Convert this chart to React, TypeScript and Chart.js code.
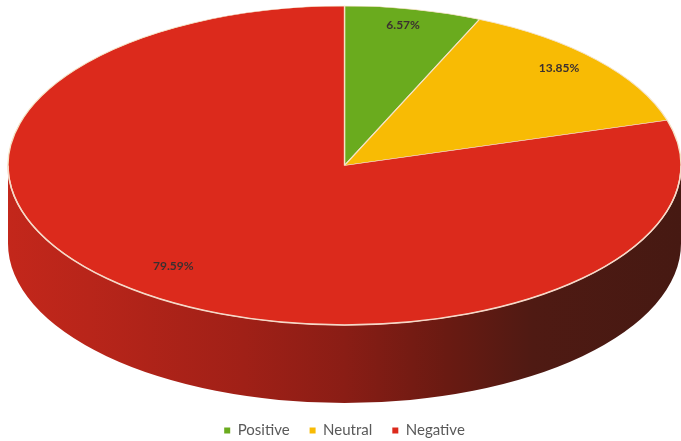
import React, { useEffect, useRef } from "react";
import { Chart, registerables } from "chart.js";

Chart.register(...registerables);

// ---- data ----
const categories = ["Positive", "Neutral", "Negative"];
const shares = [6.57, 13.85, 79.59];
const valueLabels = ["6.57%", "13.85%", "79.59%"];
const sliceColors = ["#6aab1e", "#f8bb04", "#dc2a1c"];

// ---- 3D look (style) ----
const TILT = 0.474; // vertical / horizontal radius of the top face
const DEPTH = 78; // thickness of the cylinder side, px
const LABEL_R = 0.85; // label distance, fraction of radius
const LABEL_LIFT = 8; // perspective-like upward shift of labels, px
const sideStops: [number, string][] = [
  [0, "#c3271b"],
  [0.12, "#b8251a"],
  [0.35, "#a02017"],
  [0.5, "#8a1d15"],
  [0.65, "#6a1a12"],
  [0.78, "#4f1a13"],
  [1, "#461912"],
];

function geometry(chart: any) {
  const a = chart.chartArea;
  const rx = (a.right - a.left) / 2;
  const ry = rx * TILT;
  return { cx: a.left + rx, cy: a.top + ry, rx, ry };
}

const pie3d = {
  id: "pie3d",
  beforeDatasetsDraw(chart: any) {
    const ctx = chart.ctx as CanvasRenderingContext2D;
    const { cx, cy, rx, ry } = geometry(chart);
    const meta = chart.getDatasetMeta(0);
    const grad = ctx.createLinearGradient(cx - rx, 0, cx + rx, 0);
    sideStops.forEach(([o, c]) => grad.addColorStop(o, c));
    ctx.save();
    meta.data.forEach((arc: any) => {
      const { startAngle, endAngle } = arc.getProps(["startAngle", "endAngle"], true);
      for (let k = -1; k <= 1; k++) {
        const lo = Math.max(startAngle, 2 * Math.PI * k);
        const hi = Math.min(endAngle, Math.PI + 2 * Math.PI * k);
        if (hi > lo) {
          ctx.beginPath();
          ctx.ellipse(cx, cy, rx, ry, 0, lo, hi, false);
          ctx.ellipse(cx, cy + DEPTH, rx, ry, 0, hi, lo, true);
          ctx.closePath();
          ctx.fillStyle = grad;
          ctx.fill();
        }
      }
    });
    ctx.restore();
    const arc0 = meta.data[0];
    const R = arc0.outerRadius;
    ctx.save();
    ctx.translate(cx, cy);
    ctx.scale(rx / R, ry / R);
    ctx.translate(-arc0.x, -arc0.y);
  },
  afterDatasetsDraw(chart: any) {
    const ctx = chart.ctx as CanvasRenderingContext2D;
    ctx.restore();
    const { cx, cy, rx, ry } = geometry(chart);
    // light rim along the front edge
    ctx.save();
    ctx.beginPath();
    ctx.ellipse(cx, cy, rx, ry, 0, 0, Math.PI, false);
    ctx.strokeStyle = "#f6d8c8";
    ctx.lineWidth = 1.5;
    ctx.stroke();
    // value labels
    const meta = chart.getDatasetMeta(0);
    ctx.font = 'bold 12px Lato, "Open Sans", sans-serif';
    ctx.fillStyle = "#3b3030";
    ctx.textAlign = "center";
    ctx.textBaseline = "middle";
    meta.data.forEach((arc: any, i: number) => {
      const { startAngle, endAngle } = arc.getProps(["startAngle", "endAngle"], true);
      const mid = (startAngle + endAngle) / 2;
      const x = cx + rx * LABEL_R * Math.cos(mid);
      const y = cy + ry * LABEL_R * Math.sin(mid) - LABEL_LIFT;
      ctx.fillText(valueLabels[i], x, y);
    });
    ctx.restore();
  },
};

export default function App() {
  const ref = useRef<HTMLCanvasElement | null>(null);
  useEffect(() => {
    if (!ref.current) return;
    const baseGen = (Chart as any).overrides.pie.plugins.legend.labels.generateLabels;
    const chart = new Chart(ref.current, {
      type: "pie",
      data: {
        labels: categories,
        datasets: [
          {
            data: shares,
            backgroundColor: sliceColors,
            borderColor: "#f5e3c6",
            borderWidth: 0.8,
            clip: false as any,
          },
        ],
      },
      options: {
        responsive: true,
        maintainAspectRatio: false,
        animation: false,
        events: [],
        layout: { padding: { left: 8, right: 0, top: 6, bottom: -7 } },
        plugins: {
          tooltip: { enabled: false },
          legend: {
            position: "bottom",
            labels: {
              boxWidth: 6,
              boxHeight: 6,
              padding: 20,
              color: "#595959",
              font: { family: 'Lato, "Open Sans", sans-serif', size: 15 },
              generateLabels: (c: any) =>
                baseGen(c).map((l: any) => ({ ...l, lineWidth: 0, strokeStyle: l.fillStyle })),
            },
          },
        },
      },
      plugins: [pie3d],
    });
    return () => chart.destroy();
  }, []);
  return (
    <div style={{ position: "fixed", left: 0, top: 0, width: 681, height: 441, background: "#fff" }}>
      <canvas ref={ref} />
    </div>
  );
}
